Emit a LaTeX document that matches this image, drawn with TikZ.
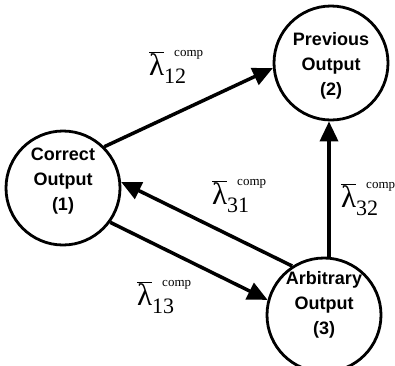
\documentclass[tikz,border=0pt]{standalone}
\usepackage{fontspec}
\usetikzlibrary{arrows.meta}
\newfontfamily\nodefont{Liberation Sans}
\newfontfamily\lamfont{Liberation Serif}
\newcommand\lamlab[1]{%
  \hbox{\lamfont\fontsize{31}{31}\selectfont$\overline{\hbox{λ}}$}%
  \rlap{\hspace{10pt}\raisebox{19pt}{\lamfont\fontsize{13}{13}\selectfont comp}}%
  \raisebox{-8pt}{\lamfont\fontsize{22}{22}\selectfont #1}}
\tikzset{
  circ/.style={draw, circle, line width=2.8pt, minimum size=114pt, inner sep=0pt},
  txt/.style={align=center, font=\nodefont\bfseries\fontsize{18}{25}\selectfont, inner sep=0pt},
  lab/.style={anchor=base west, inner sep=0pt},
  arr/.style={line width=3.5pt, -{Triangle[length=20pt,width=18pt]}}
}
\begin{document}
\begin{tikzpicture}[x=1pt,y=-1pt]
\useasboundingbox (0,0) rectangle (395,365);
\node[circ] (c1) at (63,188) {};
\node[circ] (c2) at (331,63) {};
\node[circ] (c3) at (324,315) {};
\node[txt] (t1) at (63,181) {Correct\\Output\\(1)};
\node[txt] (t2) at (331,66) {Previous\\Output\\(2)};
\node[txt] (t3) at (324,305) {Arbitrary\\Output\\(3)};
\draw[arr] (c1.45) -- (c2.185);
\draw[arr] (c3.123) -- (c1.6);
\draw[arr] (c1.-36) -- (c3.165);
\draw[arr] (c3.north -| 329,0) -- (c2.south -| 329,0);
\node[lab] (l12) at (149,75) {\lamlab{12}};
\node[lab] (l31) at (212,204) {\lamlab{31}};
\node[lab] (l13) at (137,305) {\lamlab{13}};
\node[lab] (l32) at (341,207) {\lamlab{32}};
\end{tikzpicture}
\end{document}
